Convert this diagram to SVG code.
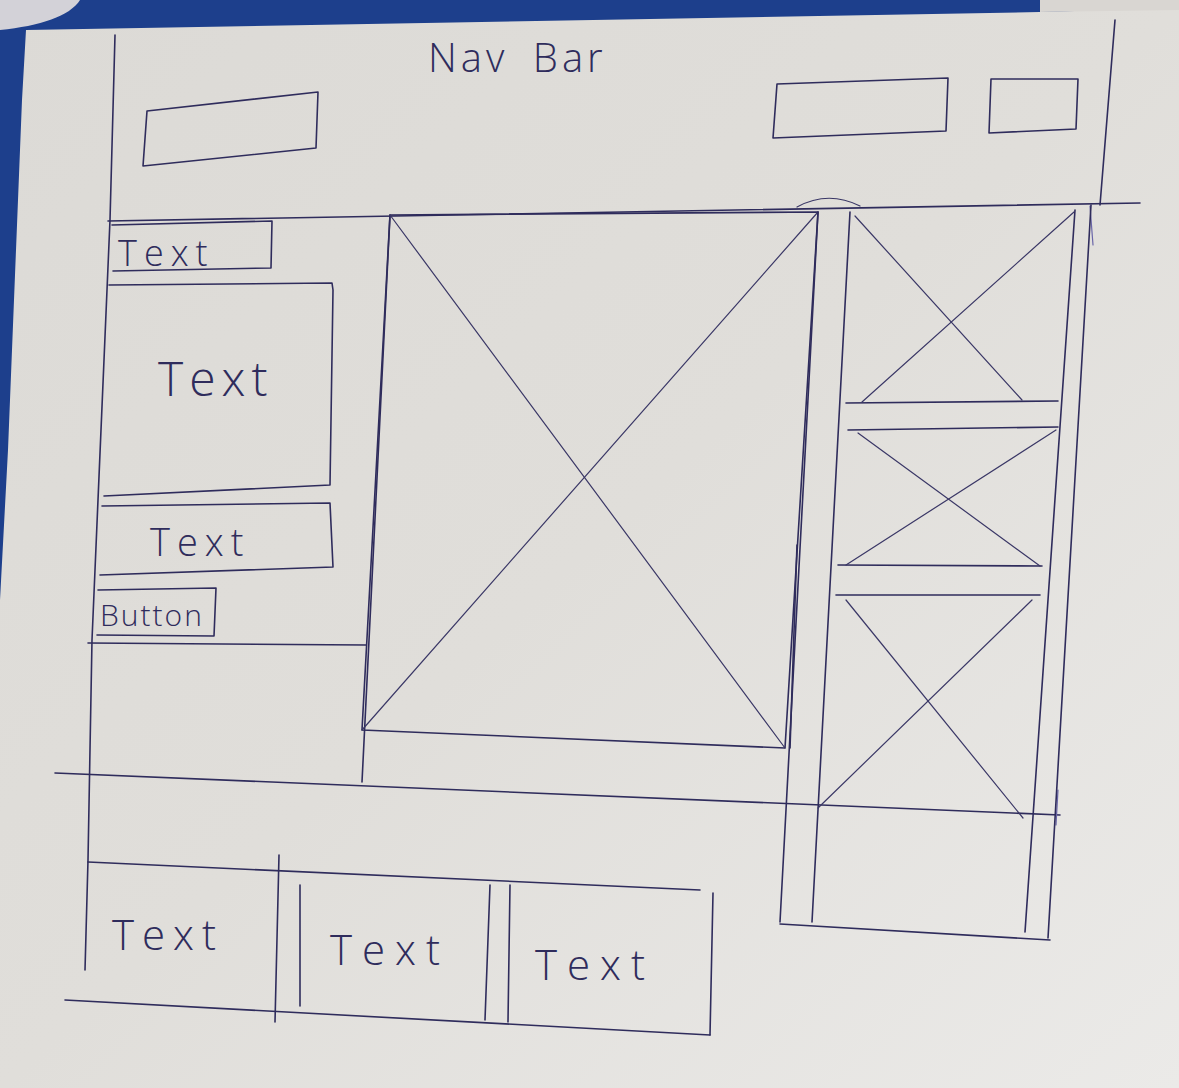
<svg xmlns="http://www.w3.org/2000/svg" width="1179" height="1088" viewBox="0 0 1179 1088">
  <defs>
    <linearGradient id="paper" x1="0" y1="0" x2="1" y2="1">
      <stop offset="0" stop-color="#dcdad6"/>
      <stop offset="0.5" stop-color="#e0deda"/>
      <stop offset="1" stop-color="#ebeae8"/>
    </linearGradient>
    <style>
      .ink{stroke:#2f2c5c;stroke-width:1.6;fill:none;stroke-linecap:round;stroke-linejoin:round}
      .thin{stroke:#3a3766;stroke-width:1.2;fill:none;stroke-linecap:round}
      .faint{stroke:#6a66a8;stroke-width:1.2;fill:none;stroke-linecap:round}
      .hw{font-family:"Open Sans","DejaVu Sans",sans-serif;fill:#2f2c5c;font-weight:300}
    </style>
  </defs>

  <!-- photo background -->
  <rect x="0" y="0" width="1179" height="1088" fill="#1d3f8c"/>
  <polygon points="26,30 1040,12 1179,8 1179,1088 0,1088 0,600 8,450 16,250 22,100" fill="url(#paper)"/>
  <path d="M0,0 L80,0 C70,16 40,26 0,30 Z" fill="#d3d2d8"/>
  <path d="M1040,0 L1179,0 L1179,10 L1040,12 Z" fill="#d9d6d2"/>

  <g id="title">
    <text class="hw" x="428" y="72" font-size="40" letter-spacing="4" word-spacing="10">Nav Bar</text>
  </g>

  <g id="frame">
    <path class="ink" d="M115,35 L110,220 L92,640 L88,860 L85,970"/>
    <path class="ink" d="M1115,20 L1100,205"/>
    <path class="ink" d="M108,221 L1140,203"/>
    <path class="thin" d="M797,207 Q828,190 860,206"/>
    <path class="faint" d="M1090,206 L1093,245"/>
  </g>

  <g id="nav-logo">
    <path class="ink" d="M147,111 L318,92 L316,148 L143,166 Z"/>
  </g>
  <g id="nav-search">
    <path class="ink" d="M777,84 L948,78 L946,131 L773,138 Z"/>
  </g>
  <g id="nav-icon">
    <path class="ink" d="M991,79 L1078,79 L1076,129 L989,133 Z"/>
  </g>

  <g id="left-column">
    <path class="ink" d="M390,215 L362,782"/>
    <path class="ink" d="M88,643 L366,645"/>
  </g>

  <g id="text-small">
    <path class="ink" d="M112,225 L272,221 L271,268 L113,271"/>
    <text class="hw" x="118" y="266" font-size="36" letter-spacing="7">Text</text>
  </g>
  <g id="text-large">
    <path class="ink" d="M109,285 L332,283 L333,290 L330,485 L104,496"/>
    <text class="hw" x="158" y="396" font-size="48" letter-spacing="6">Text</text>
  </g>
  <g id="text-mid">
    <path class="ink" d="M102,506 L330,503 L333,567 L100,575"/>
    <text class="hw" x="150" y="556" font-size="38" letter-spacing="7">Text</text>
  </g>
  <g id="button">
    <path class="ink" d="M98,590 L216,588 L214,636 L97,635"/>
    <text class="hw" x="100" y="626" font-size="30" letter-spacing="2">Button</text>
  </g>

  <g id="hero-image">
    <path class="ink" d="M390,215 L818,212 L785,748 L362,730 Z"/>
    <path class="thin" d="M390,215 L785,748"/>
    <path class="thin" d="M818,212 L362,730"/>
    <path class="ink" d="M797,545 L790,748"/>
  </g>

  <g id="divider">
    <path class="ink" d="M55,773 L1060,815"/>
    <path class="faint" d="M1058,790 L1056,825"/>
  </g>

  <g id="right-column">
    <path class="ink" d="M818,212 L780,922"/>
    <path class="ink" d="M850,212 L812,922"/>
    <path class="ink" d="M1075,210 L1025,932"/>
    <path class="ink" d="M1091,205 L1048,938"/>
    <path class="ink" d="M780,924 L1050,940"/>
  </g>
  <g id="side-image-1">
    <path class="ink" d="M846,403 L1058,401"/>
    <path class="thin" d="M855,216 L1022,400"/>
    <path class="thin" d="M1074,212 L862,402"/>
  </g>
  <g id="side-image-2">
    <path class="ink" d="M848,430 L1058,427"/>
    <path class="ink" d="M838,565 L1042,566"/>
    <path class="thin" d="M858,433 L1040,566"/>
    <path class="thin" d="M1056,430 L846,565"/>
  </g>
  <g id="side-image-3">
    <path class="ink" d="M836,595 L1040,595"/>
    <path class="thin" d="M846,600 L1023,818"/>
    <path class="thin" d="M1032,600 L818,808"/>
  </g>

  <g id="footer">
    <path class="ink" d="M88,862 L700,890"/>
    <path class="ink" d="M65,1000 L710,1035"/>
    <path class="ink" d="M713,893 L710,1035"/>
    <path class="ink" d="M279,855 L275,1022"/>
    <path class="ink" d="M300,885 L300,1006"/>
    <path class="ink" d="M490,885 L485,1020"/>
    <path class="ink" d="M510,885 L508,1022"/>
  </g>
  <g id="footer-text-1">
    <text class="hw" x="112" y="950" font-size="42" letter-spacing="8">Text</text>
  </g>
  <g id="footer-text-2">
    <text class="hw" x="330" y="965" font-size="42" letter-spacing="10">Text</text>
  </g>
  <g id="footer-text-3">
    <text class="hw" x="535" y="980" font-size="42" letter-spacing="10">Text</text>
  </g>
</svg>
